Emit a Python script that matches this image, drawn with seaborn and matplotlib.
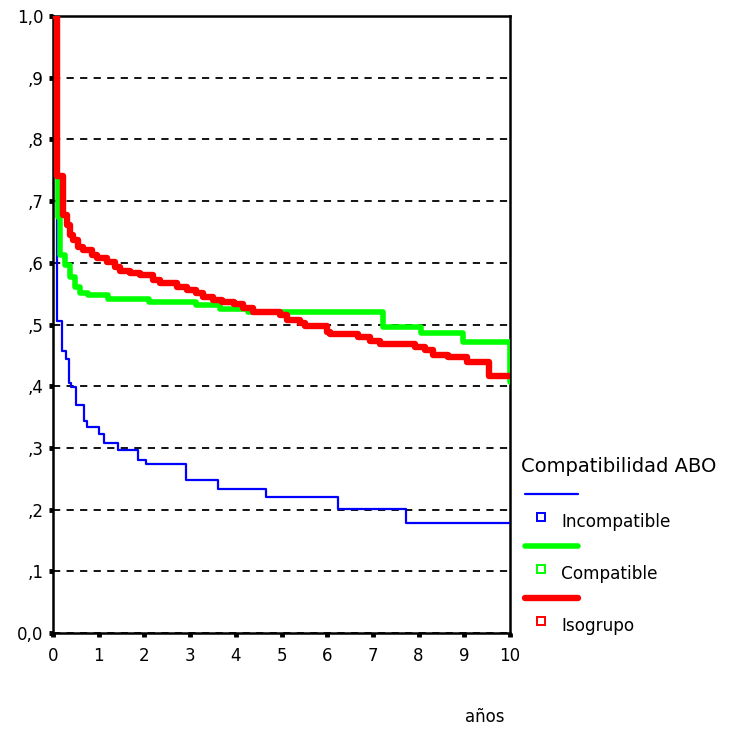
import seaborn as sns
import matplotlib.pyplot as plt
import pandas as pd
from matplotlib.lines import Line2D

# Curvas de supervivencia (años, proporción)
grupos = ['Incompatible', 'Compatible', 'Isogrupo']
colores = ['#0000ff', '#00ff00', '#ff0000']
grosores = [1.6, 4.0, 4.6]

t_incomp = [0, 0.09, 0.19, 0.28, 0.35, 0.39, 0.50, 0.67, 0.74, 1.01, 1.11, 1.42,
            1.85, 2.03, 2.90, 3.60, 4.66, 6.24, 7.72, 10.0]
s_incomp = [1.0, 0.506, 0.457, 0.444, 0.405, 0.398, 0.370, 0.344, 0.334, 0.322,
            0.308, 0.297, 0.281, 0.274, 0.248, 0.233, 0.221, 0.201, 0.179, 0.179]

t_comp = [0, 0.09, 0.12, 0.16, 0.26, 0.37, 0.48, 0.59, 0.77, 1.21, 2.09, 3.14,
          3.65, 4.27, 7.23, 8.05, 8.98, 10.0]
s_comp = [1.0, 0.74, 0.675, 0.613, 0.596, 0.577, 0.561, 0.551, 0.548, 0.541,
          0.537, 0.532, 0.525, 0.520, 0.496, 0.487, 0.471, 0.407]

t_iso = [0, 0.09, 0.21, 0.30, 0.37, 0.44, 0.55, 0.66, 0.85, 0.96, 1.18, 1.36,
         1.47, 1.68, 1.90, 2.19, 2.34, 2.71, 2.93, 3.14, 3.29, 3.51, 3.69, 3.95,
         4.16, 4.38, 4.97, 5.11, 5.40, 5.51, 5.99, 6.06, 6.68, 6.94, 7.16, 7.92,
         8.14, 8.32, 8.65, 9.05, 9.53, 10.0]
s_iso = [1.0, 0.74, 0.677, 0.661, 0.645, 0.637, 0.626, 0.621, 0.613, 0.607,
         0.602, 0.594, 0.586, 0.583, 0.580, 0.572, 0.567, 0.561, 0.556, 0.551,
         0.545, 0.540, 0.537, 0.533, 0.526, 0.521, 0.515, 0.507, 0.502, 0.497,
         0.488, 0.484, 0.479, 0.474, 0.468, 0.464, 0.459, 0.451, 0.448, 0.440,
         0.416, 0.416]

x_ticks = list(range(0, 11))
y_ticks = [0.0, 0.1, 0.2, 0.3, 0.4, 0.5, 0.6, 0.7, 0.8, 0.9, 1.0]
y_labels = ['0,0', ',1', ',2', ',3', ',4', ',5', ',6', ',7', ',8', ',9', '1,0']

df = pd.concat([
    pd.DataFrame({'años': t_incomp, 'surv': s_incomp, 'grupo': 'Incompatible'}),
    pd.DataFrame({'años': t_comp, 'surv': s_comp, 'grupo': 'Compatible'}),
    pd.DataFrame({'años': t_iso, 'surv': s_iso, 'grupo': 'Isogrupo'}),
], ignore_index=True)

sns.set_style('white')
plt.rcParams['font.family'] = ['DejaVu Sans']
plt.rcParams['text.color'] = 'black'
plt.rcParams['xtick.color'] = 'black'
plt.rcParams['ytick.color'] = 'black'

fig = plt.figure(figsize=(7.34, 7.29), dpi=100)
ax = fig.add_axes([53 / 734, 1 - 633 / 729, (510 - 53) / 734, (633 - 16) / 729])

sns.lineplot(data=df, x='años', y='surv', hue='grupo', hue_order=grupos,
             palette=dict(zip(grupos, colores)), size='grupo', size_order=grupos,
             sizes=dict(zip(grupos, grosores)), drawstyle='steps-post',
             estimator=None, sort=False, legend=False, ax=ax, zorder=3)

ax.set_xlim(0, 10)
ax.set_ylim(0, 1.0)
ax.set_xticks(x_ticks)
ax.set_xticklabels([str(x) for x in x_ticks])
ax.set_yticks(y_ticks)
ax.set_yticklabels(y_labels)
ax.set_xlabel('')
ax.set_ylabel('')

# rejilla discontinua solo horizontal
ax.yaxis.grid(True, linestyle=(0, (4, 3.5)), color='black', linewidth=1.3)
ax.xaxis.grid(False)
for sp in ax.spines.values():
    sp.set_color('black')
    sp.set_linewidth(1.8)
ax.tick_params(axis='both', direction='out', length=3, width=3.5, color='black',
               labelcolor='black', labelsize=12, pad=4, left=True, bottom=True)
ax.tick_params(axis='x', pad=7)

fig.text(485 / 734, 1 - 717 / 729, 'años', fontsize=12, ha='center', va='center')

# leyenda estilo SPSS
fig.text(521 / 734, 1 - 466 / 729, 'Compatibilidad ABO', fontsize=14,
         ha='left', va='center')
y_lineas = [494, 546, 598]
for g, c, lw, yl in zip(grupos, colores, grosores, y_lineas):
    fig.add_artist(Line2D([525 / 734, 578 / 734], [1 - yl / 729, 1 - yl / 729],
                          color=c, lw=lw, transform=fig.transFigure))
    fig.add_artist(Line2D([541 / 734], [1 - (yl + 23) / 729], marker='s',
                          markersize=5.5, markerfacecolor='white',
                          markeredgecolor=c, markeredgewidth=1.4,
                          transform=fig.transFigure))
    fig.text(561 / 734, 1 - (yl + 28) / 729, g, fontsize=12.2, ha='left', va='center')

fig.savefig('out.png', dpi=100)
